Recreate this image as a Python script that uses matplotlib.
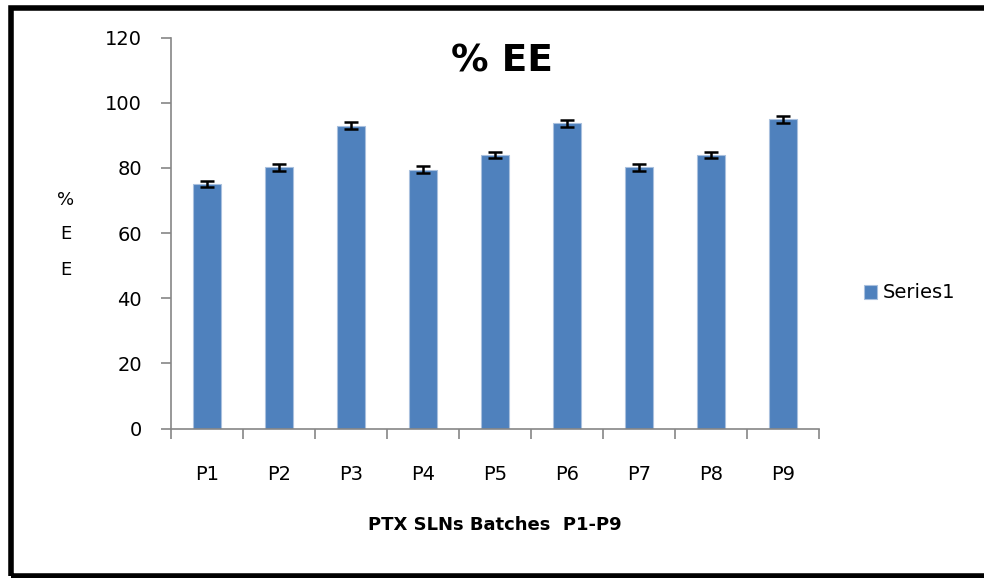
import matplotlib
matplotlib.use("Agg")
import matplotlib.pyplot as plt
from matplotlib.patches import Rectangle
import numpy as np

categories = ["P1", "P2", "P3", "P4", "P5", "P6", "P7", "P8", "P9"]
ee_values = [75.1, 80.2, 93.0, 79.5, 84.0, 93.7, 80.2, 84.0, 94.9]
ee_errors = [1.0, 1.0, 1.0, 1.0, 1.0, 1.0, 1.0, 1.0, 1.0]
y_ticks = [0, 20, 40, 60, 80, 100, 120]

plt.rcParams['font.family'] = ['DejaVu Sans']

fig = plt.figure(figsize=(9.84, 5.78), dpi=100)
ax = fig.add_axes([171/984, 1-428.5/578, (819-171)/984, (428.5-37.7)/578])

x = np.arange(len(categories))
bars = ax.bar(x, ee_values, width=0.4, color="#4f81bd", edgecolor="#a9c0de", linewidth=0.8,
              yerr=ee_errors, error_kw=dict(ecolor="black", elinewidth=1.8, capsize=5, capthick=1.8),
              label="Series1", zorder=2)

ax.set_xlim(-0.5, len(categories) - 0.5)
ax.set_ylim(0, 120)
ax.set_yticks(y_ticks)
ax.set_yticklabels([str(t) for t in y_ticks], fontsize=14)
ax.set_xticks(x)
ax.set_xticklabels(categories, fontsize=14)
ax.tick_params(axis='x', length=0, pad=26)
ax.set_xticks(np.arange(-0.5, len(categories)), minor=True)
ax.tick_params(axis='x', which='minor', length=7, color="#868686", width=1.2)
ax.tick_params(axis='y', length=7, color="#868686", width=1.2, pad=14)

for s in ["top", "right"]:
    ax.spines[s].set_visible(False)
for s in ["left", "bottom"]:
    ax.spines[s].set_color("#868686")
    ax.spines[s].set_linewidth(1.2)

fig.text(502/984, 1-62/578, "% EE", fontsize=27, fontweight="bold", ha="center", va="center")
for ylab_char, ypix in zip(["%", "E", "E"], [200, 234, 270]):
    fig.text(66/984, 1-ypix/578, ylab_char, fontsize=13, ha="center", va="center")
fig.text(495/984, 1-525/578, "PTX SLNs Batches  P1-P9", fontsize=13, fontweight="bold", ha="center", va="center")

fig.legend([bars.patches[0]], ["Series1"],
           loc="center left", bbox_to_anchor=(846/984, 1-293/578), frameon=False,
           fontsize=14, handlelength=0.7, handleheight=0.7, handletextpad=0.3)

# outer frame
fig.patches.append(Rectangle((10.5/984, 2.5/578), 1.2, 1 - 10.5/578, transform=fig.transFigure,
                             fill=False, edgecolor="black", linewidth=4, zorder=10))

fig.savefig("out.png", dpi=100)
